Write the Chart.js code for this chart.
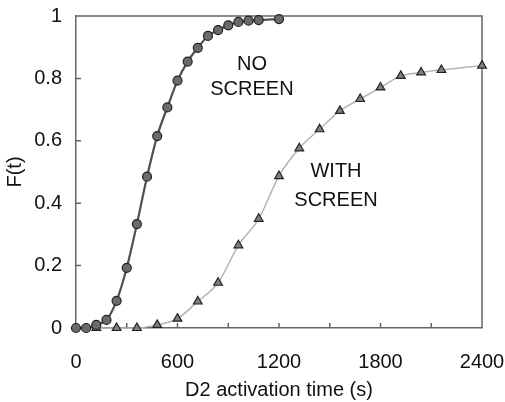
<!DOCTYPE html>
<html>
<head>
<meta charset="utf-8">
<script src="https://cdn.jsdelivr.net/npm/chart.js@4"></script>
<style>
html, body { margin: 0; padding: 0; background: #fff; }
</style>
</head>
<body>
<canvas id="myChart" width="505" height="402"></canvas>
<script>
// Datos
const noScreenTime = [0, 60, 120, 180, 240, 300, 360, 420, 480, 540, 600, 660, 720, 780, 840, 900, 960, 1020, 1080, 1200];
const noScreenF = [0, 0, 0.01, 0.026, 0.087, 0.193, 0.333, 0.485, 0.615, 0.707, 0.793, 0.854, 0.898, 0.936, 0.955, 0.97, 0.981, 0.985, 0.987, 0.99];
const withScreenTime = [120, 240, 360, 480, 600, 720, 840, 960, 1080, 1200, 1320, 1440, 1560, 1680, 1800, 1920, 2040, 2160, 2400];
const withScreenF = [0, 0, 0, 0.01, 0.03, 0.085, 0.145, 0.265, 0.35, 0.487, 0.576, 0.637, 0.696, 0.734, 0.771, 0.808, 0.819, 0.827, 0.841];

const xTicks = [0, 600, 1200, 1800, 2400];
const yTicks = [0, 0.2, 0.4, 0.6, 0.8, 1];

// Etiquetas dentro del grafico: [texto, x, y]
const notes = [
    ['NO', 1040, 0.843],
    ['SCREEN', 1040, 0.763],
    ['WITH', 1537, 0.503],
    ['SCREEN', 1537, 0.41]
];

function toPoints(xs, ys) {
    return xs.map((x, i) => ({ x: x, y: ys[i] }));
}

Chart.defaults.font.family = '"Liberation Sans", Arial, sans-serif';
Chart.defaults.font.size = 20;
Chart.defaults.color = '#111';

const axisColor = '#666';

// Marco y marcas hacia dentro
const frame = {
    id: 'frame',
    beforeDatasetsDraw(chart) {
        const ctx = chart.ctx;
        const a = chart.chartArea;
        const xs = chart.scales.x;
        const ys = chart.scales.y;
        ctx.save();
        ctx.strokeStyle = axisColor;
        ctx.lineWidth = 1.5;
        ctx.beginPath();
        ctx.moveTo(a.left, a.top);
        ctx.lineTo(a.right, a.top);
        ctx.lineTo(a.right, a.bottom);
        for (let v = 300; v < 2400; v += 300) {
            const px = xs.getPixelForValue(v);
            ctx.moveTo(px, a.bottom);
            ctx.lineTo(px, a.bottom - 5);
        }
        for (let i = 1; i < yTicks.length - 1; i++) {
            const py = ys.getPixelForValue(yTicks[i]);
            ctx.moveTo(a.left, py);
            ctx.lineTo(a.left + 5, py);
        }
        ctx.stroke();
        ctx.restore();
    },
    afterDatasetsDraw(chart) {
        const ctx = chart.ctx;
        const xs = chart.scales.x;
        const ys = chart.scales.y;
        ctx.save();
        ctx.fillStyle = '#111';
        ctx.font = '20px "Liberation Sans", Arial, sans-serif';
        ctx.textAlign = 'center';
        ctx.textBaseline = 'middle';
        notes.forEach(n => {
            ctx.fillText(n[0], xs.getPixelForValue(n[1]), ys.getPixelForValue(n[2]));
        });
        ctx.restore();
    }
};

const config = {
    type: 'scatter',
    data: {
        datasets: [{
            label: 'NO SCREEN',
            data: toPoints(noScreenTime, noScreenF),
            showLine: true,
            borderColor: '#505050',
            borderWidth: 2.2,
            cubicInterpolationMode: 'monotone',
            pointStyle: 'circle',
            pointRadius: 4.5,
            pointBackgroundColor: '#6b6b6b',
            pointBorderColor: '#222',
            pointBorderWidth: 1.2,
            clip: false
        }, {
            label: 'WITH SCREEN',
            data: toPoints(withScreenTime, withScreenF),
            showLine: true,
            borderColor: '#b4b4b4',
            borderWidth: 1.5,
            cubicInterpolationMode: 'monotone',
            pointStyle: 'triangle',
            pointRadius: 5,
            pointBackgroundColor: '#808080',
            pointBorderColor: '#222',
            pointBorderWidth: 1.2,
            clip: false
        }]
    },
    options: {
        responsive: false,
        animation: false,
        layout: { padding: { top: 16, right: 23, left: 0, bottom: 0 } },
        plugins: {
            legend: { display: false },
            tooltip: { enabled: false }
        },
        scales: {
            x: {
                type: 'linear',
                min: 0,
                max: 2400,
                afterFit: s => { s.height = 74; s.paddingLeft = 0; s.paddingRight = 0; },
                afterBuildTicks: s => { s.ticks = xTicks.map(v => ({ value: v })); },
                grid: { display: false, drawTicks: false },
                border: { display: true, color: axisColor, width: 1.5 },
                ticks: { padding: 22, maxRotation: 0, autoSkip: false, callback: v => String(v) },
                title: { display: true, text: 'D2 activation time (s)', padding: { top: 0, bottom: 0 } }
            },
            y: {
                min: 0,
                max: 1,
                afterFit: s => { s.width = 76; s.paddingTop = 0; s.paddingBottom = 0; },
                afterBuildTicks: s => { s.ticks = yTicks.map(v => ({ value: v })); },
                grid: { display: false, drawTicks: false },
                border: { display: true, color: axisColor, width: 1.5 },
                ticks: { padding: 14, callback: v => String(Math.round(v * 10) / 10) },
                title: { display: true, text: 'F(t)', padding: { top: 3, bottom: 0 } }
            }
        }
    },
    plugins: [frame]
};

var myChart = new Chart(document.getElementById('myChart'), config);
</script>
</body>
</html>
